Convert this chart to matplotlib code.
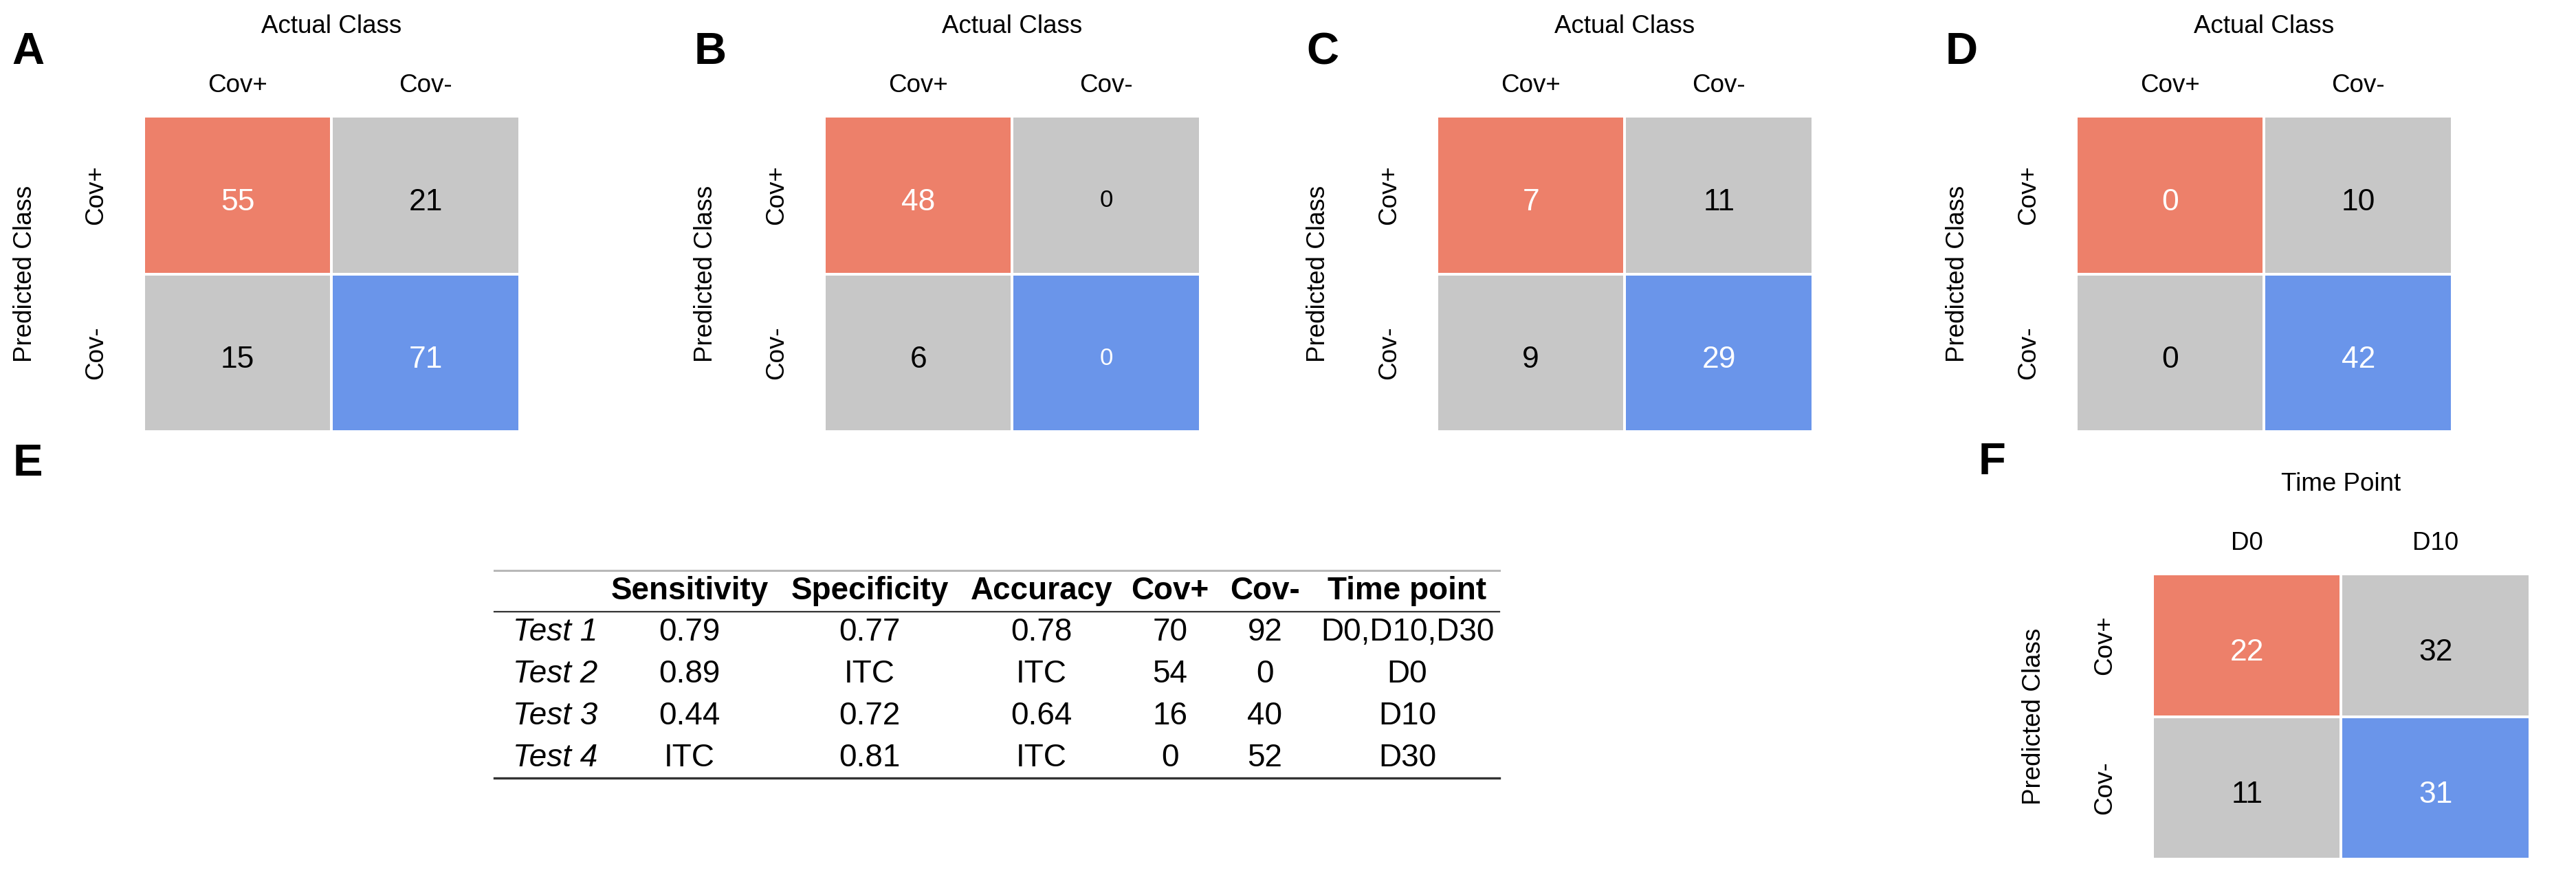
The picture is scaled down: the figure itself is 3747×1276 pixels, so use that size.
import numpy as np
import matplotlib
matplotlib.use("Agg")
import matplotlib.pyplot as plt
from matplotlib.colors import ListedColormap

plt.rcParams["font.family"] = ["Liberation Sans", "DejaVu Sans"]

# confusion matrices: rows = predicted (Cov+, Cov-), cols = actual (Cov+, Cov-)
classes = ["Cov+", "Cov-"]
time_points = ["D0", "D10"]
cm_a = [[55, 21], [15, 71]]
cm_b = [[48, 0], [6, 0]]
cm_c = [[7, 11], [9, 29]]
cm_d = [[0, 10], [0, 42]]
cm_f = [[22, 32], [11, 31]]
# tile colour group: 0 = misclassified, 1 = true Cov+, 2 = true Cov-
tile_group = [[1, 0], [0, 2]]

# table of panel E
table_cols = ["Sensitivity", "Specificity", "Accuracy", "Cov+", "Cov-", "Time point"]
table_rows = ["Test 1", "Test 2", "Test 3", "Test 4"]
sensitivity = ["0.79", "0.89", "0.44", "ITC"]
specificity = ["0.77", "ITC", "0.72", "0.81"]
accuracy = ["0.78", "ITC", "0.64", "ITC"]
n_pos = [70, 54, 16, 0]
n_neg = [92, 0, 40, 52]
time_point = ["D0,D10,D30", "D0", "D10", "D30"]

W, H = 3748, 1276
fig = plt.figure(figsize=(W / 100, H / 100), dpi=100)


def px_axes(x0, y0, x1, y1):
    return fig.add_axes([x0 / W, 1 - y1 / H, (x1 - x0) / W, (y1 - y0) / H])


cmap = ListedColormap(["#c7c7c7", "#ed806a", "#6a95ea"])
LAB = 26.5


def conf_heatmap(ax, values, xlabels, title, small_zero=False):
    vals = np.array(values)
    ax.pcolormesh(np.array(tile_group), cmap=cmap, vmin=0, vmax=2,
                  edgecolors="white", linewidth=1.6)
    ax.set_xlim(0, 2)
    ax.set_ylim(2, 0)
    for i in range(2):
        for j in range(2):
            col = "white" if tile_group[i][j] else "black"
            size = 32
            if small_zero and vals[i, j] == 0:
                size = 25
            ax.annotate(str(vals[i, j]), xy=(j + 0.5, i + 0.5), xytext=(0, -size * 0.5),
                        textcoords="offset points", ha="center", va="baseline",
                        color=col, fontsize=size)
    ax.set_xticks([0.5, 1.5], xlabels)
    ax.set_yticks([0.5, 1.5], classes)
    ax.xaxis.tick_top()
    ax.tick_params(length=0, labelsize=LAB)
    ax.tick_params(axis="x", pad=32)
    ax.tick_params(axis="y", pad=50)
    for lab in ax.get_xticklabels():
        lab.set_va("center")
    for lab in ax.get_yticklabels():
        lab.set_rotation(90)
        lab.set_ha("center")
        lab.set_va("center")
    for s in ax.spines.values():
        s.set_visible(False)
    ax.annotate(title, xy=(0.5, 1), xycoords="axes fraction", xytext=(0, 130),
                textcoords="offset pixels", ha="center", va="center", fontsize=LAB)
    ax.annotate("Predicted Class", xy=(0, 0.5), xycoords="axes fraction", xytext=(-172, 0),
                textcoords="offset pixels", rotation=90, ha="center", va="center",
                fontsize=LAB)


# panels A-D (letter x, heatmap left x in pixels)
panels = [("A", cm_a, False, 17, 209), ("B", cm_b, True, 1010, 1199),
          ("C", cm_c, False, 1900, 2090), ("D", cm_d, False, 2830, 3020)]
for letter, cm, small, lx, x0 in panels:
    ax = px_axes(x0, 169, x0 + 547, 628)
    conf_heatmap(ax, cm, classes, "Actual Class", small_zero=small)
    fig.text(lx / W, 1 - 93 / H, letter, fontsize=47, fontweight="bold",
             ha="left", va="baseline")

# panel F
axf = px_axes(3131, 835, 3680, 1250)
conf_heatmap(axf, cm_f, time_points, "Time Point")
fig.text(2878 / W, 1 - 690 / H, "F", fontsize=47, fontweight="bold", ha="left", va="baseline")

# panel E - table
fig.text(19 / W, 1 - 692 / H, "E", fontsize=47, fontweight="bold", ha="left", va="baseline")
axt = px_axes(719, 830, 2181, 1132)
axt.set_xlim(0, 1462)
axt.set_ylim(302, 0)
axt.axis("off")
col_x = [284, 546, 796, 983, 1121, 1328]
TFS = 33
for cx, name in zip(col_x, table_cols):
    axt.text(cx, 30, name, ha="center", va="center", fontsize=TFS, fontweight="bold")
columns = [sensitivity, specificity, accuracy, n_pos, n_neg, time_point]
for r, rname in enumerate(table_rows):
    y = 90 + 61 * r
    axt.text(27, y, rname, ha="left", va="center", fontsize=TFS, style="italic")
    for cx, colvals in zip(col_x, columns):
        axt.text(cx, y, str(colvals[r]), ha="center", va="center", fontsize=TFS)
axt.axhline(0, color="#b8b8b8", lw=2.2, clip_on=False)
axt.axhline(60, color="#333333", lw=1.6, clip_on=False)
axt.axhline(302, color="#333333", lw=2.4, clip_on=False)

fig.savefig("out.png", dpi=100, facecolor="white")
